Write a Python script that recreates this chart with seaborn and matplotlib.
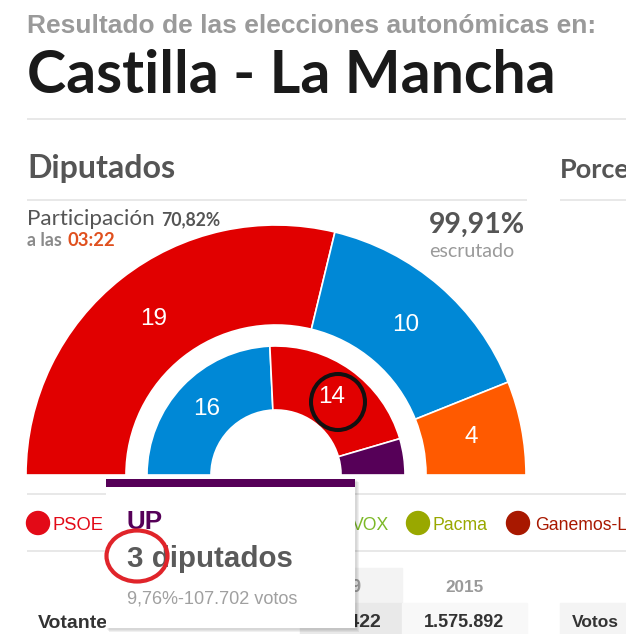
import matplotlib
matplotlib.use("Agg")
import matplotlib.pyplot as plt
from matplotlib.patches import Rectangle, Circle, Ellipse
import seaborn as sns

# ---------------- data ----------------
outer_parties = ["PSOE", "PP", "Cs"]
outer_seats = [19, 10, 4]
outer_colors = ["#E10000", "#0088D6", "#FF5A00"]

inner_parties = ["PP", "PSOE", "UP"]
inner_seats = [16, 14, 3]
inner_colors = ["#0088D6", "#E10000", "#560058"]
inner_labels = ["16", "14", ""]

legend_items = ["PSOE", "VOX", "Pacma", "Ganemos-LV"]
legend_colors = ["#E30A17", "#7DB928", "#99A800", "#A81800"]

participacion = "70,82%"
hora = "03:22"
escrutado = "99,91%"
tooltip_party = "UP"
tooltip_seats = "3 diputados"
tooltip_votes = "9,76%-107.702 votos"
table_years = ["2019", "2015"]
table_votantes = ["1.593.422", "1.575.892"]

# ---------------- figure ----------------
sns.set_theme(style="white")
plt.rcParams["font.family"] = ["Liberation Sans", "DejaVu Sans"]

W, H = 626, 634
fig = plt.figure(figsize=(W / 100, H / 100), dpi=100)
ax = fig.add_axes([0, 0, 1, 1])
fig.patch.set_facecolor("white")
renderer = fig.canvas.get_renderer()


def txt(x, y, s, width=None, size=12, **kw):
    kw.setdefault("va", "baseline")
    t = ax.text(x, y, s, fontsize=size, **kw)
    if width:
        bb = t.get_window_extent(renderer)
        t.set_fontsize(size * width / bb.width)
    return t


def hline(y, x0, x1, color="#e4e4e4", lw=1.2):
    ax.plot([x0, x1], [y, y], color=color, lw=lw, solid_capstyle="butt", zorder=1)


# ---------------- rings (seaborn-styled matplotlib pie) ----------------
cx, cy = 276, 475
total_out = sum(outer_seats)
w1, t1 = ax.pie(outer_seats + [total_out], radius=250, center=(cx, cy),
                startangle=180, counterclock=True, frame=True,
                colors=outer_colors + ["none"],
                labels=[str(v) for v in outer_seats] + [""],
                labeldistance=0.795,
                wedgeprops=dict(width=100, edgecolor="white", linewidth=1.2))
total_in = sum(inner_seats)
w2, t2 = ax.pie(inner_seats + [total_in], radius=129, center=(cx, cy),
                startangle=180, counterclock=True, frame=True,
                colors=inner_colors + ["none"],
                labels=inner_labels + [""],
                labeldistance=0.745,
                wedgeprops=dict(width=64, edgecolor="white", linewidth=1.2))
w1[-1].set_edgecolor("none")
w2[-1].set_edgecolor("none")
for t in list(t1) + list(t2):
    t.set_ha("center")
    t.set_va("center")
    t.set_color("white")
    t.set_fontsize(17.5)

ax.set_xlim(0, W)
ax.set_ylim(H, 0)
ax.set_aspect("auto")
ax.axis("off")

# ---------------- header ----------------
txt(27, 33, "Resultado de las elecciones autonómicas en:", width=571, size=17,
    color="#9a9a9a", fontweight="bold")
txt(27, 93, "Castilla - La Mancha", width=528, size=36,
    color="#1a1a1a", fontweight="bold", family=["Lato", "DejaVu Sans"])
hline(119, 27, 626)

txt(27, 178, "Diputados", width=148, size=20, color="#555555",
    fontweight="bold", family=["Lato", "DejaVu Sans"])
txt(560, 178, "Porcentaje", size=19.5, color="#555555",
    fontweight="bold", family=["Lato", "DejaVu Sans"])
hline(200, 27, 527)
hline(200, 560, 626)

txt(27, 225, "Participación", width=128, size=14, color="#555555",
    family=["Lato", "DejaVu Sans"])
txt(161, 225, participacion, width=60, size=11, color="#555555",
    fontweight="bold", family=["Lato", "DejaVu Sans"])
txt(27, 246, "a las", width=35, size=11, color="#8a8a8a",
    fontweight="bold", family=["Lato", "DejaVu Sans"])
txt(67, 246, hora, width=47, size=12, color="#E0501E",
    fontweight="bold", family=["Lato", "DejaVu Sans"])

txt(429, 233, escrutado, width=96, size=20, color="#555555",
    fontweight="bold", family=["Lato", "DejaVu Sans"])
txt(429, 257, "escrutado", width=85, size=13, color="#9a9a9a",
    family=["Lato", "DejaVu Sans"])

# ---------------- legend ----------------
hline(494, 27, 626)
hline(551, 27, 626)
ax.add_patch(Circle((38, 523), 11.5, color=legend_colors[0], zorder=2))
tp = txt(52, 530, legend_items[0], width=51, size=12, color=legend_colors[0])
ax.add_patch(Circle((418, 523), 11.5, color=legend_colors[2], zorder=2))
tpa = txt(433, 530, legend_items[2], width=55, size=12, color=legend_colors[2])
lsize = tpa.get_fontsize()
txt(389, 530, legend_items[1], size=lsize, color=legend_colors[1], ha="right")
ax.add_patch(Circle((518, 523), 11.5, color=legend_colors[3], zorder=2))
txt(535, 530, legend_items[3], size=lsize, color=legend_colors[3])

# ---------------- table ----------------
ax.add_patch(Rectangle((300, 568), 102, 35, color="#f3f3f3", zorder=0))
ax.add_patch(Rectangle((300, 603), 102, 31, color="#e9e9e9", zorder=0))
ax.add_patch(Rectangle((402, 603), 125, 31, color="#f8f8f8", zorder=0))
ax.add_patch(Rectangle((560, 603), 66, 31, color="#f4f4f4", zorder=0))
txt(361, 592, table_years[0], size=13, color="#9a9a9a", fontweight="bold", ha="right")
txt(464, 592, table_years[1], width=38, size=13, color="#9a9a9a",
    fontweight="bold", ha="center")
txt(38, 628, "Votantes", size=14, color="#333333", fontweight="bold")
txt(382, 627, table_votantes[0], size=14, color="#333333", fontweight="bold", ha="right")
txt(464, 627, table_votantes[1], width=80, size=13.5, color="#333333",
    fontweight="bold", ha="center")
txt(572, 627, "Votos", width=47, size=13.5, color="#333333", fontweight="bold")

# ---------------- tooltip ----------------
for i, a in enumerate([0.05, 0.05, 0.06]):
    ax.add_patch(Rectangle((106 + i + 1, 479 + i + 1), 249 + 1, 149 + 1,
                           color="black", alpha=a, zorder=8, lw=0))
ax.add_patch(Rectangle((106, 479), 249, 149, facecolor="white",
                       edgecolor="none", zorder=9))
ax.add_patch(Rectangle((106, 479), 249, 8, facecolor="#560058",
                       edgecolor="none", zorder=10))
txt(127, 529, tooltip_party, width=36, size=18, color="#560058",
    fontweight="bold", zorder=11)
txt(127, 567, tooltip_seats, width=166, size=21, color="#5a5a5a",
    fontweight="bold", zorder=11)
txt(127, 603, tooltip_votes, width=171, size=12, color="#a0a0a0", zorder=11)

# ---------------- hand-drawn circles ----------------
ax.add_patch(Ellipse((137, 556), 61, 51, fill=False, edgecolor="#E0242A",
                     lw=3.0, zorder=12))
ax.add_patch(Ellipse((338, 402), 54, 56, fill=False, edgecolor="#111111",
                     lw=2.9, zorder=12))

ax.set_xlim(0, W)
ax.set_ylim(H, 0)
fig.savefig("out.png", dpi=100, facecolor="white")
